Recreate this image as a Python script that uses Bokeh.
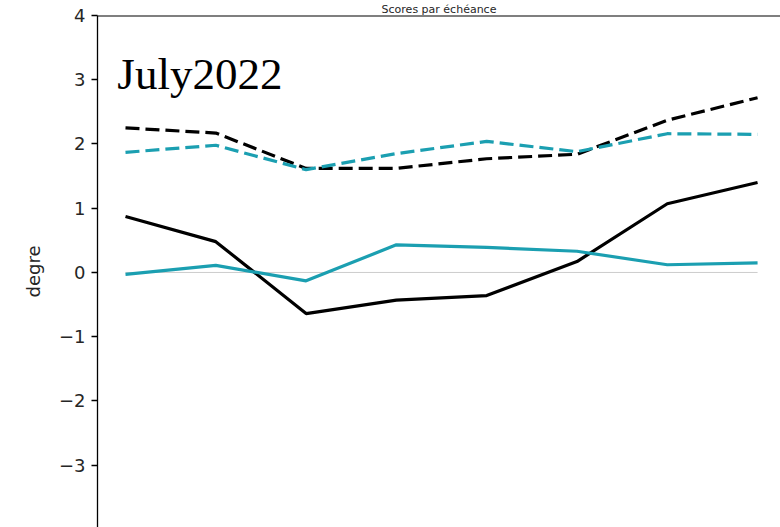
from bokeh.plotting import figure
from bokeh.models import Range1d, FixedTicker, Label, Span, CustomJSTickFormatter
from bokeh.embed import file_html
from bokeh.resources import INLINE

# ---- data ----
echeances = [0, 1, 2, 3, 4, 5, 6, 7]
black_solid = [0.87, 0.48, -0.64, -0.43, -0.36, 0.17, 1.07, 1.40]
cyan_solid = [-0.03, 0.11, -0.13, 0.43, 0.39, 0.33, 0.12, 0.15]
black_dashed = [2.25, 2.17, 1.62, 1.62, 1.77, 1.84, 2.37, 2.72]
cyan_dashed = [1.87, 1.98, 1.60, 1.85, 2.04, 1.88, 2.16, 2.15]
y_ticks = [-4, -3, -2, -1, 0, 1, 2, 3, 4]
title_text = "Scores par échéance"
month_text = "July2022"
y_label = "degre"

CYAN = "#1b9fb1"

p = figure(width=780, height=527, output_backend="svg", toolbar_location=None,
           x_range=Range1d(-0.31, 7.254), y_range=Range1d(-3.97, 4.0),
           min_border_left=97, min_border_top=0, min_border_bottom=0, min_border_right=0)
p.title.text = title_text
p.title.align = "center"
p.title.text_font = "DejaVu Sans"
p.title.text_font_size = "11px"
p.title.text_font_style = "normal"
p.title.text_color = "#262626"
p.title.standoff = 0
p.title.offset = 40

p.xaxis.visible = False
p.grid.visible = False
p.outline_line_color = None
p.background_fill_color = "white"
p.border_fill_color = "white"

ax = p.yaxis[0]
ax.ticker = FixedTicker(ticks=y_ticks)
ax.formatter = CustomJSTickFormatter(code="return tick < 0 ? '\\u2212' + Math.abs(tick) : tick.toString();")
ax.axis_line_color = "black"
ax.axis_line_width = 1.3
ax.major_tick_line_color = "black"
ax.major_tick_line_width = 1.3
ax.major_tick_out = 6
ax.major_tick_in = 0
ax.minor_tick_line_color = None
ax.major_label_text_font = "DejaVu Sans"
ax.major_label_text_font_size = "18px"
ax.major_label_text_color = "#262626"
ax.major_label_standoff = 6
ax.axis_label = y_label
ax.axis_label_text_font = "DejaVu Sans"
ax.axis_label_text_font_size = "18px"
ax.axis_label_text_font_style = "normal"
ax.axis_label_text_color = "#262626"
ax.axis_label_standoff = 12

# top spine
p.add_layout(Span(location=4.0, dimension="width", line_color="black", line_width=2))

# zero line
p.line([echeances[0], echeances[-1]], [0, 0], line_color="#cccccc", line_width=1)

p.line(echeances, black_dashed, line_color="black", line_width=3.2, line_dash="14 6")
p.line(echeances, cyan_dashed, line_color=CYAN, line_width=3.2, line_dash="14 6")
p.line(echeances, black_solid, line_color="black", line_width=3.2)
p.line(echeances, cyan_solid, line_color=CYAN, line_width=3.2)

p.add_layout(Label(x=-0.09, y=3.084, text=month_text, text_align="left",
                   text_baseline="alphabetic", text_font="Liberation Serif",
                   text_font_size="45px", text_color="black"))

open("out.html", "w").write(file_html(p, INLINE))
